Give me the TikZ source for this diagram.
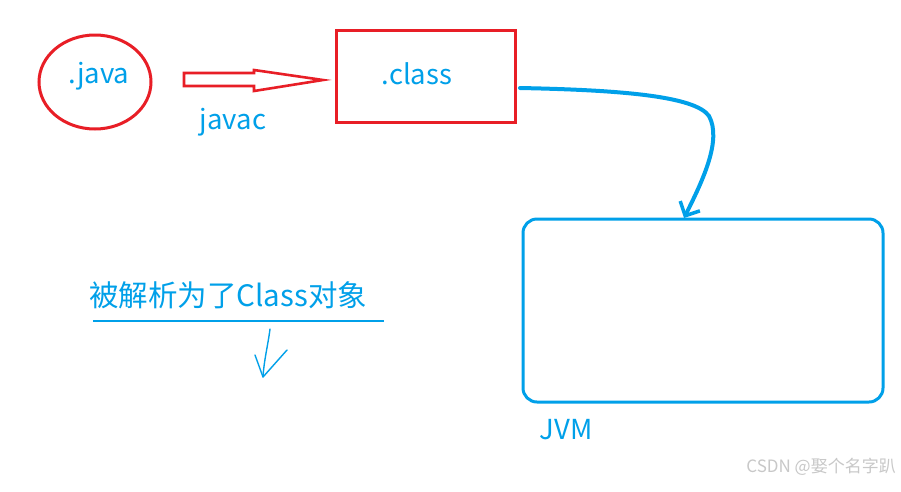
\documentclass[tikz,border=0pt]{standalone}
\usepackage{fontspec}
\setmainfont{Noto Sans CJK SC}
\usetikzlibrary{arrows.meta}
\definecolor{redc}{RGB}{232,30,38}
\definecolor{bluec}{RGB}{0,160,233}
\definecolor{grayc}{RGB}{200,200,200}
\tikzset{
  lbl/.style={text=bluec, font=\fontsize{27.5}{32}\selectfont, inner sep=0pt, anchor=center},
  redshape/.style={draw=redc, line width=3pt},
  blueshape/.style={draw=bluec, line width=3pt},
}
\begin{document}
\begin{tikzpicture}[x=1pt,y=-1pt]
\useasboundingbox[fill=white] (0,0) rectangle (901,491);
% .java ellipse
\draw[redshape] (95,82) ellipse [x radius=56, y radius=47];
\node[lbl] (java) at (99,76) {.java};
% hollow arrow
\draw[redshape, line width=2.6pt, line join=miter]
  (184,73) -- (254,73) -- (254,70) -- (323,80) -- (254,91) -- (254,86) -- (184,86) -- cycle;
\node[lbl] (javac) at (233,122) {javac};
% .class rect
\node[redshape, minimum width=179pt, minimum height=92pt, inner sep=0pt] (clsbox) at (425.5,76) {};
\node[lbl] (cls) at (417,74) {.class};
% JVM box
\node[blueshape, rounded corners=14pt, minimum width=360pt, minimum height=183pt, inner sep=0pt] (jvm) at (703,310.5) {};
\node[lbl] (jvmlbl) at (566,430) {JVM};
% curve
\coordinate (cs) at (520,88);
\coordinate (ce) at (684,218);
\draw[bluec, line width=4pt, line cap=round, -{Straight Barb[length=11pt, width=22pt, line width=3.5pt]}]
  (cs) .. controls (620,90) and (695,96) .. (709,116)
  .. controls (722,140) and (703,180) .. (ce);
% Chinese label
\node[lbl, anchor=west, font=\fontsize{29.5}{34}\selectfont] (parsed) at (89,295) {被解析为了Class对象};
\coordinate (ul1) at (93,321);
\coordinate (ul2) at (384,321);
\draw[bluec, line width=1.8pt] (ul1) -- (ul2);
% small hand-drawn arrow
\coordinate (a1) at (270,329);
\coordinate (a2) at (263,377);
\coordinate (w1) at (255,355);
\coordinate (w2) at (287,350);
\draw[bluec, line width=1.4pt, line cap=round, line join=round] (a1) .. controls (268,345) and (264,360) .. (a2);
\draw[bluec, line width=1.4pt, line cap=round, line join=round] (w1) -- (a2) -- (w2);
% watermark
\node[text=grayc, font=\fontsize{17}{20}\selectfont, anchor=east, inner sep=0pt] (wm) at (896,467) {CSDN @娶个名字趴};
\end{tikzpicture}
\end{document}
